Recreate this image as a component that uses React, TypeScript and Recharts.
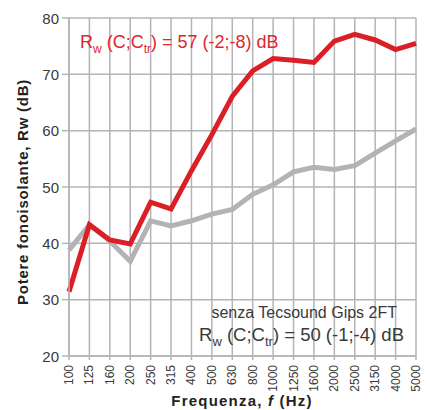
import React from 'react';
import { LineChart, Line, XAxis, YAxis, CartesianGrid } from 'recharts';

const frequencies = ['100', '125', '160', '200', '250', '315', '400', '500', '630', '800', '1000', '1250', '1600', '2000', '2500', '3150', '4000', '5000'];
const withTecsound = [31.4, 43.3, 40.6, 39.9, 47.3, 46.1, 52.9, 59.3, 66.1, 70.6, 72.8, 72.5, 72.1, 75.9, 77.1, 76.1, 74.4, 75.5];
const withoutTecsound = [38.8, 43.3, 40.4, 36.8, 44.0, 43.1, 44.0, 45.2, 46.0, 48.7, 50.4, 52.7, 53.5, 53.1, 53.8, 56.0, 58.2, 60.3];
const yTicks = [20, 30, 40, 50, 60, 70, 80];

const data = frequencies.map((f, i) => ({ f, red: withTecsound[i], grey: withoutTecsound[i] }));

const FONT = '"Liberation Sans Narrow", "Liberation Sans", Arial, sans-serif';
const TEXT = '#3a3a3a';
const GRID = '#b4b4b6';

const XTick = (props: any) => {
  const { x, y, payload } = props;
  return (
    <text
      x={x}
      y={y + 3}
      transform={`rotate(-90 ${x} ${y + 3})`}
      textAnchor="end"
      dominantBaseline="central"
      fontSize={12}
      fontFamily={FONT}
      fill={TEXT}
    >
      {payload.value}
    </text>
  );
};

const YTick = (props: any) => {
  const { x, y, payload } = props;
  return (
    <text x={x - 1} y={y} textAnchor="end" dominantBaseline="central" fontSize={15} fontFamily={FONT} fill={TEXT}>
      {payload.value}
    </text>
  );
};

export default function App() {
  return (
    <div style={{ position: 'absolute', left: 0, top: 0, width: 427, height: 410, background: '#fff', fontFamily: FONT }}>
      <LineChart width={427} height={410} data={data} margin={{ top: 18, right: 11, bottom: 0, left: 0 }}>
        <CartesianGrid stroke={GRID} strokeWidth={1.5} />
        <XAxis
          dataKey="f"
          interval={0}
          padding={{ left: 0, right: 0 }}
          tick={<XTick />}
          tickSize={4}
          height={54}
          stroke={GRID}
          strokeWidth={1.5}
          tickLine={{ stroke: GRID, strokeWidth: 1.5 }}
        />
        <YAxis
          domain={[20, 80]}
          ticks={yTicks}
          width={69}
          tick={<YTick />}
          tickSize={7}
          stroke={GRID}
          strokeWidth={1.5}
          tickLine={{ stroke: GRID, strokeWidth: 1.5 }}
          allowDataOverflow
        />
        <Line dataKey="grey" stroke="#b3b3b5" strokeWidth={5} dot={false} isAnimationActive={false} strokeLinejoin="miter" />
        <Line dataKey="red" stroke="#da1f26" strokeWidth={5} dot={false} isAnimationActive={false} strokeLinejoin="miter" />
      </LineChart>

      <div style={{ position: 'absolute', left: 80, top: 33, color: '#e0262e', fontSize: 18, whiteSpace: 'nowrap', lineHeight: 1 }}>
        R<sub style={{ fontSize: 12 }}>w</sub> (C;C<sub style={{ fontSize: 12 }}>tr</sub>) = 57 (-2;-8) dB
      </div>

      <div style={{ position: 'absolute', right: 30, top: 305, color: TEXT, fontSize: 16, whiteSpace: 'nowrap', lineHeight: 1 }}>
        senza Tecsound Gips 2FT
      </div>
      <div style={{ position: 'absolute', right: 23, top: 326, color: TEXT, fontSize: 18.5, whiteSpace: 'nowrap', lineHeight: 1 }}>
        R<sub style={{ fontSize: 13 }}>w</sub> (C;C<sub style={{ fontSize: 13 }}>tr</sub>) = 50 (-1;-4) dB
      </div>

      <div
        style={{
          position: 'absolute',
          left: 22,
          top: 192,
          transform: 'translate(-50%, -50%) rotate(-90deg)',
          fontWeight: 'bold',
          fontSize: 15,
          letterSpacing: 0.75,
          color: '#222',
          whiteSpace: 'nowrap',
          fontFamily: 'Arial, "Liberation Sans", sans-serif',
        }}
      >
        Potere fonoisolante, Rw (dB)
      </div>
      <div
        style={{
          position: 'absolute',
          left: 242,
          top: 400,
          transform: 'translate(-50%, -50%)',
          fontWeight: 'bold',
          fontSize: 15,
          letterSpacing: 1.2,
          color: '#222',
          whiteSpace: 'nowrap',
          fontFamily: 'Arial, "Liberation Sans", sans-serif',
        }}
      >
        Frequenza, <i>f</i> (Hz)
      </div>
    </div>
  );
}
